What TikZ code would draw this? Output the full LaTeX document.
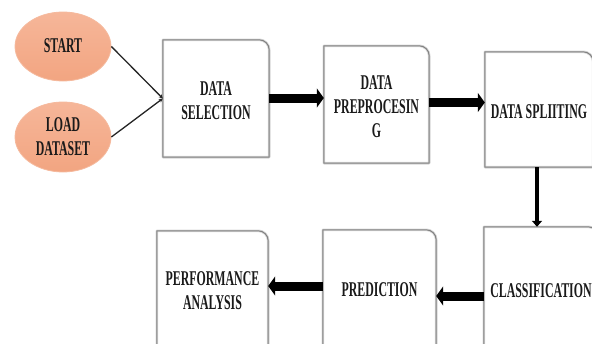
\documentclass[tikz,border=0pt]{standalone}
\usepackage{fontspec}
\usepackage{graphicx}
\setmainfont{Liberation Serif}
\usetikzlibrary{arrows.meta,shapes.geometric}

% condensed bold label, one or more centred lines; optional vertical nudge
\newcommand\lbl[2][-4pt]{\raisebox{#1}[\height][\depth]{\scalebox{0.565}[1]{\def\arraystretch{1}\begin{tabular}{@{}c@{}}#2\end{tabular}}}}

% box outline with a single rounded (top-right) corner and a soft grey rim
\newcommand\cornerbox[1]{%
  \foreach \w/\c in {2.6pt/black!16, 1pt/black!50}{%
    \draw[line width=\w, draw=\c, line join=round]
      (#1.south west) -- (#1.north west) -- ([xshift=-10pt]#1.north east)
      arc[start angle=90, end angle=0, radius=10pt] -- (#1.south east) -- cycle;}}

\definecolor{salmontop}{HTML}{F6B699}
\definecolor{salmonbot}{HTML}{F2A581}
\definecolor{salmonedge}{HTML}{F5BA9E}
\definecolor{inktext}{HTML}{1A1A1A}

\tikzset{
  every node/.style={text=inktext, font=\bfseries\fontsize{21}{24}\selectfont},
  stepbox/.style={rectangle, inner sep=0pt},
  oval/.style={ellipse, inner sep=0pt, draw=salmonedge, line width=0.8pt,
               top color=salmontop, bottom color=salmonbot},
  thin link/.style={draw=black!85, line width=1.3pt, -{Stealth[length=4pt,width=4pt]}},
  fat/.style={line width=9pt, -{Triangle[length=7pt,width=19pt]}},
  slim/.style={line width=4.5pt, -{Triangle[length=6pt,width=10pt]}},
}

\begin{document}
\begin{tikzpicture}[x=1pt, y=-1pt]
  \useasboundingbox (0,0) rectangle (592,343);
  \clip (0,0) rectangle (592,343);

  % start nodes
  \node[oval, minimum width=96pt, minimum height=69pt] (start) at (63,46.5) {\lbl[-1pt]{START}};
  \node[oval, minimum width=96pt, minimum height=70pt] (load) at (63,137) {\lbl[-2pt]{LOAD\\DATASET}};

  % processing steps
  \node[stepbox, minimum width=106pt, minimum height=117pt] (sel)  at (216,98.5)  {\lbl{DATA\\SELECTION}};
  \node[stepbox, minimum width=105pt, minimum height=117pt] (pre)  at (376.5,104.5) {\lbl{DATA\\PREPROCESIN\\G}};
  \node[stepbox, minimum width=108pt, minimum height=115pt] (spl)  at (539,109.5) {\lbl{DATA SPLIITING}};
  \node[stepbox, minimum width=114pt, minimum height=123pt] (cls)  at (541,288.5) {\lbl{CLASSIFICATION}};
  \node[stepbox, minimum width=113pt, minimum height=116pt] (pred) at (379.5,288) {\lbl{PREDICTION}};
  \node[stepbox, minimum width=111pt, minimum height=116pt] (perf) at (212.5,289) {\lbl{PERFORMANCE\\ANALYSIS}};

  \foreach \b in {sel,pre,spl,cls,pred,perf}{\cornerbox{\b}}

  % inputs
  \draw[thin link] (start.east) -- (sel.west);
  \draw[thin link] (load.east) -- (sel.west);

  % flow between steps
  \draw[fat] ([yshift=0.5pt]sel.east) -- ([yshift=0.5pt]sel.east -| pre.west);
  \draw[fat] ([yshift=2pt]pre.east) -- ([yshift=2pt]pre.east -| spl.west);
  \draw[slim] ([xshift=-2pt]spl.south) -- ([xshift=-2pt]spl.south |- cls.north);
  \draw[fat] ([yshift=-7.5pt]cls.west) -- ([yshift=-7.5pt]cls.west -| pred.east);
  \draw[fat] ([yshift=2pt]pred.west) -- ([yshift=2pt]pred.west -| perf.east);
\end{tikzpicture}
\end{document}
